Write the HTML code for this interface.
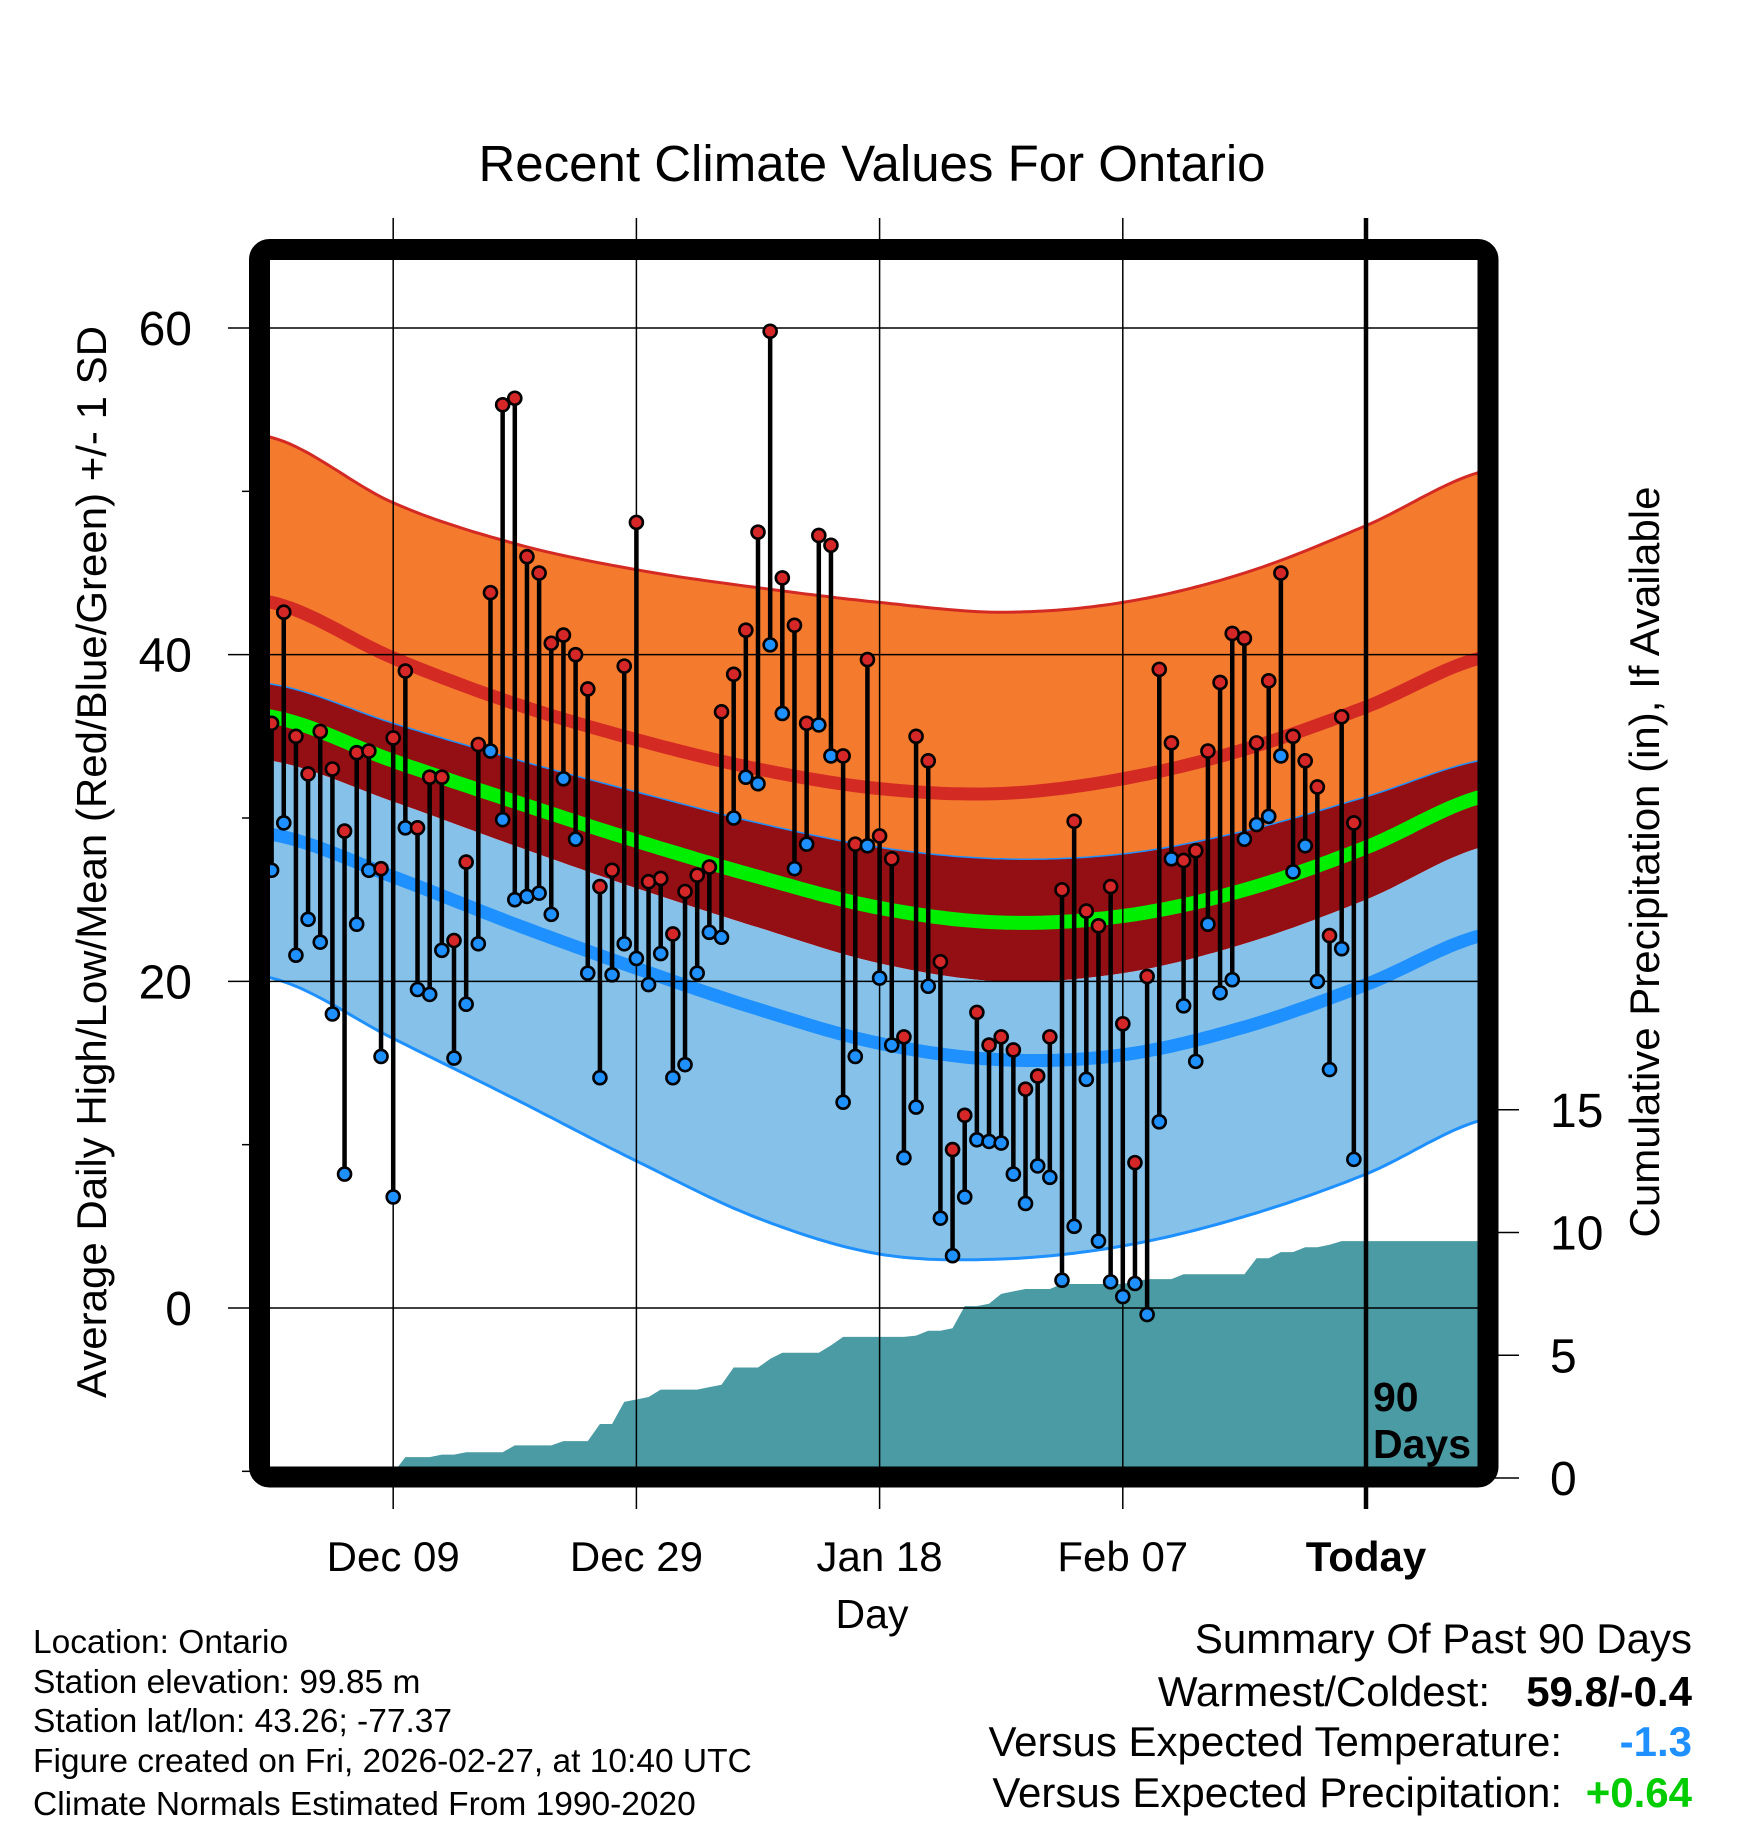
<!DOCTYPE html>
<html><head><meta charset="utf-8"><style>
html,body{margin:0;padding:0;background:#fff}
svg{display:block;font-family:"Liberation Sans",sans-serif}
</style></head><body>
<svg id="chart" width="1748" height="1828" viewBox="0 0 1748 1828">
<text x="872" y="181" font-size="51" text-anchor="middle">Recent Climate Values For Ontario</text>
<g id="bands"></g>
<g id="precip"></g>
<g id="grid"></g>
<g id="marks"></g>
<rect x="259.5" y="249.5" width="1228.5" height="1227.5" rx="10" fill="none" stroke="#000" stroke-width="21"/>
<g id="axes"></g>
<text x="1373" y="1411" font-size="41" font-weight="bold">90</text>
<text x="1373" y="1458" font-size="41" font-weight="bold">Days</text>
<text transform="translate(106,862) rotate(-90)" font-size="42" text-anchor="middle">Average Daily High/Low/Mean (Red/Blue/Green) +/- 1 SD</text>
<text transform="translate(1659,862) rotate(-90)" font-size="42" text-anchor="middle">Cumulative Precipitation (in), If Available</text>
<text x="872" y="1628" font-size="41" text-anchor="middle">Day</text>
<g font-size="33.5">
<text x="33" y="1653">Location: Ontario</text>
<text x="33" y="1693">Station elevation: 99.85 m</text>
<text x="33" y="1732">Station lat/lon: 43.26; -77.37</text>
<text x="33" y="1772">Figure created on Fri, 2026-02-27, at 10:40 UTC</text>
<text x="33" y="1815">Climate Normals Estimated From 1990-2020</text>
</g>
<g font-size="42">
<text x="1692" y="1653" text-anchor="end">Summary Of Past 90 Days</text>
<text x="1490" y="1706" text-anchor="end">Warmest/Coldest:</text>
<text x="1692" y="1706" text-anchor="end" font-weight="bold">59.8/-0.4</text>
<text x="1562" y="1756" text-anchor="end">Versus Expected Temperature:</text>
<text x="1692" y="1756" text-anchor="end" font-weight="bold" fill="#1e90ff">-1.3</text>
<text x="1562" y="1807" text-anchor="end">Versus Expected Precipitation:</text>
<text x="1692" y="1807" text-anchor="end" font-weight="bold" fill="#00cc00">+0.64</text>
</g>
</svg>
<script>
const highs=[35.8,42.6,35,32.7,35.3,33,29.2,34,34.1,26.9,34.9,39,29.4,32.5,32.5,22.5,27.3,34.5,43.8,55.3,55.7,46,45,40.7,41.2,40,37.9,25.8,26.8,39.3,48.1,26.1,26.3,22.9,25.5,26.5,27,36.5,38.8,41.5,47.5,59.8,44.7,41.8,35.8,47.3,46.7,33.8,28.4,39.7,28.9,27.5,16.6,35,33.5,21.2,9.7,11.8,18.1,16.1,16.6,15.8,13.4,14.2,16.6,25.6,29.8,24.3,23.4,25.8,17.4,8.9,20.3,39.1,34.6,27.4,28,34.1,38.3,41.3,41,34.6,38.4,45,35,33.5,31.9,22.8,36.2,29.7];
const lows=[26.8,29.7,21.6,23.8,22.4,18,8.2,23.5,26.8,15.4,6.8,29.4,19.5,19.2,21.9,15.3,18.6,22.3,34.1,29.9,25,25.2,25.4,24.1,32.4,28.7,20.5,14.1,20.4,22.3,21.4,19.8,21.7,14.1,14.9,20.5,23,22.7,30,32.5,32.1,40.6,36.4,26.9,28.4,35.7,33.8,12.6,15.4,28.3,20.2,16.1,9.2,12.3,19.7,5.5,3.2,6.8,10.3,10.2,10.1,8.2,6.4,8.7,8,1.7,5,14,4.1,1.6,0.7,1.5,-0.4,11.4,27.5,18.5,15.1,23.5,19.3,20.1,28.7,29.6,30.1,33.8,26.7,28.3,20,14.6,22,9.1];
const precip=[0,0,0,0,0,0.1,0.1,0.1,0.2,0.2,0.2,0.85,0.85,0.85,0.95,0.95,1.05,1.05,1.05,1.05,1.33,1.33,1.33,1.33,1.5,1.5,1.5,2.2,2.2,3.1,3.2,3.3,3.6,3.6,3.6,3.6,3.7,3.8,4.5,4.5,4.5,4.85,5.1,5.1,5.1,5.1,5.4,5.75,5.75,5.75,5.75,5.75,5.75,5.8,6.0,6.0,6.1,7.0,7.0,7.1,7.5,7.6,7.7,7.7,7.7,7.9,7.9,7.9,7.9,7.9,7.9,8.0,8.1,8.1,8.1,8.3,8.3,8.3,8.3,8.3,8.3,8.95,8.95,9.2,9.2,9.4,9.4,9.5,9.65,9.65];
const normDays=[-90,-80,-70,-60,-50,-40,-30,-20,-10,0,10];
const recHigh=[53.3,49.3,46.8,45.2,44.1,43.2,42.6,43.2,45,47.9,51.3];
const avgHigh=[43.2,39.8,37,34.8,33,31.8,31.5,32.4,34.2,36.8,39.9];
const highSdLow=[38.2,35.8,33.6,31.6,29.7,28.2,27.5,27.8,29.2,31.3,33.6];
const avgMean=[36.2,33.5,31,28.6,26.4,24.5,23.6,24,25.6,28.2,31.4];
const lowSdHigh=[33.5,31,28.3,25.7,23.3,21.1,20,20.5,22.3,25,28.3];
const avgLow=[29,26.4,23.5,20.8,18.3,16.2,15.2,15.5,17.2,19.8,22.9];
const recLow=[20.2,16.5,12.8,9,5.5,3.3,3,3.8,5.6,8.2,11.6];
const yTicks=[0,20,40,60];
const yMinor=[-10,10,30,50];
const pTicks=[0,5,10,15];
const xTickDays=[-80,-60,-40,-20,0];
const xTickLabels=["Dec 09","Dec 29","Jan 18","Feb 07","Today"];

const NS="http://www.w3.org/2000/svg";
const X=d=>1366+12.16*d;
const Y=v=>1308-16.333*v;
const P=p=>1478-24.55*p;
const L=270,R=1478,T=260,B=1467;
function mk(tag,attrs,parent){const e=document.createElementNS(NS,tag);for(const k in attrs)e.setAttribute(k,attrs[k]);parent.appendChild(e);return e;}
function interp(arr,d){const n=normDays.length;let i=Math.floor((d-normDays[0])/10);i=Math.max(0,Math.min(n-2,i));const t=(d-normDays[i])/10;
const p0=arr[Math.max(0,i-1)],p1=arr[i],p2=arr[i+1],p3=arr[Math.min(n-1,i+2)];
return 0.5*((2*p1)+(-p0+p2)*t+(2*p0-5*p1+4*p2-p3)*t*t+(-p0+3*p1-3*p2+p3)*t*t*t);}
function smooth(arr){let pts=[];for(let d=-91;d<=9.6;d+=0.5){pts.push([X(d).toFixed(1),Y(interp(arr,d)).toFixed(1)]);}return pts;}
function band(a,b,fill,name,g){const p1=smooth(a),p2=smooth(b).reverse();const e=mk('path',{d:'M'+p1.concat(p2).map(p=>p.join(',')).join('L')+'Z',fill:fill},g);

}
function line(a,col,w,name,g){const e=mk('polyline',{points:smooth(a).map(p=>p.join(',')).join(' '),fill:'none',stroke:col,'stroke-width':w},g);

}
const svg=document.getElementById('chart');
const defs=mk('defs',{},svg);const cp=mk('clipPath',{id:'clip'},defs);mk('rect',{x:L,y:T,width:R-L,height:B-T},cp);
const bg=document.getElementById('bands');bg.setAttribute('clip-path','url(#clip)');
band(recHigh,highSdLow,'#f47a2e','high-sd-band',bg);
band(highSdLow,lowSdHigh,'#930f14','mean-sd-band',bg);
band(lowSdHigh,recLow,'#85c1e9','low-sd-band',bg);
line(recHigh,'#d42a24',3,'high-upper-line',bg);
line(highSdLow,'#1e90ff',1.5,'mean-upper-line',bg);
line(recLow,'#1e90ff',3,'low-lower-line',bg);
line(avgHigh,'#d42a24',13,'average-high-line',bg);
line(avgMean,'#00ee00',14,'average-mean-line',bg);
line(avgLow,'#1e90ff',13,'average-low-line',bg);
// precip
const pg=document.getElementById('precip');pg.setAttribute('clip-path','url(#clip)');
let pts=[[X(-90),P(0)]];precip.forEach((p,i)=>{pts.push([X(-90+i),P(p)]);});pts.push([R,P(precip[precip.length-1])]);pts.push([R,P(0)+20]);pts.push([X(-90),P(0)+20]);
const pa=mk('path',{d:'M'+pts.map(p=>p.join(',')).join('L')+'Z',fill:'#4a9ba4'},pg);


// grid
const gg=document.getElementById('grid');
yTicks.forEach(v=>{const e=mk('line',{x1:228,x2:R,y1:Y(v),y2:Y(v),stroke:'#000','stroke-width':1.5},gg);

});
xTickDays.forEach((d,i)=>{const e=mk('line',{x1:X(d),x2:X(d),y1:218,y2:1509,stroke:'#000','stroke-width':d===0?4.5:1.5},gg);

});
// marks
const mg=document.getElementById('marks');
highs.forEach((h,i)=>{const x=X(-90+i);const l=mk('line',{x1:x,x2:x,y1:Y(h),y2:Y(lows[i]),stroke:'#000','stroke-width':4.5},mg);

});
highs.forEach((h,i)=>{const x=X(-90+i);
const c1=mk('circle',{cx:x,cy:Y(h),r:6.5,fill:'#d62728',stroke:'#000','stroke-width':2.6},mg);


const c2=mk('circle',{cx:x,cy:Y(lows[i]),r:6.5,fill:'#1e90ff',stroke:'#000','stroke-width':2.6},mg);

});
// axes
const ag=document.getElementById('axes');
yTicks.forEach(v=>{const t=mk('text',{x:192,y:Y(v)+17,'font-size':48,'text-anchor':'end'},ag);t.textContent=v;

});
yMinor.forEach(v=>{const e=mk('line',{x1:242,x2:252,y1:Y(v),y2:Y(v),stroke:'#000','stroke-width':1.5},ag);

});
pTicks.forEach(p=>{const e=mk('line',{x1:1495,x2:1519,y1:P(p),y2:P(p),stroke:'#000','stroke-width':1.5},ag);


const t=mk('text',{x:1550,y:P(p)+17,'font-size':48},ag);t.textContent=p;

});
xTickDays.forEach((d,i)=>{const t=mk('text',{x:X(d),y:1571,'font-size':42,'text-anchor':'middle','font-weight':d===0?'bold':'normal'},ag);t.textContent=xTickLabels[i];

});
</script>
</body></html>
